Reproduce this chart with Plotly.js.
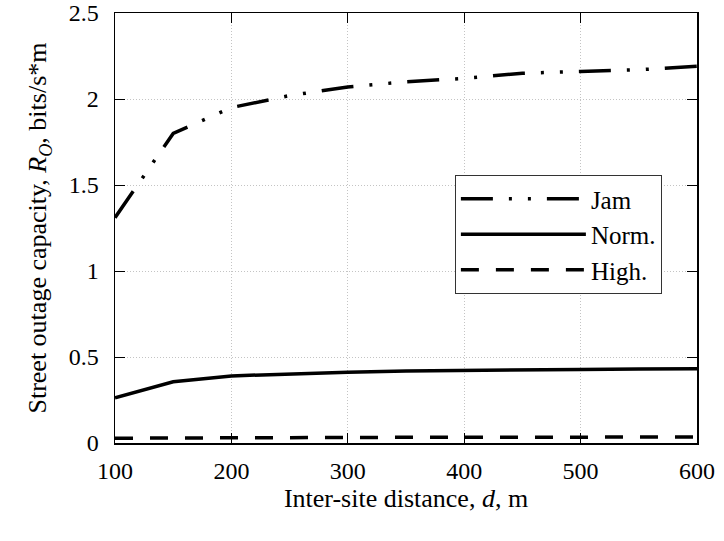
<!DOCTYPE html>
<html>
<head>
<meta charset="utf-8">
<script src="https://cdn.plot.ly/plotly-3.0.1.min.js"></script>
<style>html,body{margin:0;padding:0;background:#fff;}</style>
</head>
<body>
<div id="chart" style="width:724px;height:541px;"></div>
<script>
const distance = [100, 150, 200, 250, 300, 350, 400, 450, 500, 550, 600];
const jam = [1.31, 1.80, 1.95, 2.02, 2.07, 2.10, 2.12, 2.15, 2.16, 2.17, 2.19];
const norm = [0.263, 0.356, 0.39, 0.403, 0.412, 0.418, 0.423, 0.426, 0.428, 0.43, 0.431];
const high = [0.028, 0.03, 0.031, 0.032, 0.032, 0.033, 0.033, 0.034, 0.034, 0.035, 0.035];
const seriesNames = ["Jam", "Norm.", "High."];
const xTicks = [100, 200, 300, 400, 500, 600];
const yTicks = [0, 0.5, 1, 1.5, 2, 2.5];
const yTickText = ["0", "0.5", "1", "1.5", "2", "2.5"];

const fam = "Liberation Serif";
const tickFont = {family: fam, size: 24, color: "#000"};
const titleFont = {family: fam, size: 26, color: "#000"};
const legendFont = {family: fam, size: 25, color: "#000"};

const traces = [
  {x: distance, y: jam, name: seriesNames[0], mode: "lines",
   line: {color: "#000", width: 3.5, dash: "32px,16px,3px,16px,3px,16px"}},
  {x: distance, y: norm, name: seriesNames[1], mode: "lines",
   line: {color: "#000", width: 3.5, dash: "solid"}},
  {x: distance, y: high, name: seriesNames[2], mode: "lines",
   line: {color: "#000", width: 3.5, dash: "18px,17px"}}
];

const axisCommon = {
  showline: true, linecolor: "#000", linewidth: 1.5, mirror: "ticks",
  ticks: "inside", ticklen: 10, tickwidth: 1, tickcolor: "#000",
  showgrid: true, gridcolor: "#c4c4c4", griddash: "1px,2px", gridwidth: 1,
  zeroline: false, tickfont: tickFont
};

const layout = {
  width: 724, height: 541,
  margin: {l: 115, r: 27, t: 13, b: 98},
  paper_bgcolor: "#fff", plot_bgcolor: "#fff",
  font: tickFont,
  showlegend: true,
  legend: {x: 0.584, y: 0.623, xanchor: "left", yanchor: "top",
    bordercolor: "#333", borderwidth: 1, bgcolor: "#fff",
    font: legendFont, itemwidth: 125, tracegroupgap: 0},
  xaxis: Object.assign({}, axisCommon, {
    range: [100, 600], tickvals: xTicks, ticklabelstandoff: 6,
    title: {text: "Inter-site distance, <i>d</i>, m", font: titleFont, standoff: 5}
  }),
  yaxis: Object.assign({}, axisCommon, {
    range: [0, 2.5], tickvals: yTicks, ticktext: yTickText, ticklabelstandoff: 10,
    title: {text: "Street outage capacity, <i>R<sub>O</sub></i>, bits/s*m", font: titleFont, standoff: 14}
  })
};

Plotly.newPlot("chart", traces, layout, {staticPlot: true, displayModeBar: false});
</script>
</body>
</html>
